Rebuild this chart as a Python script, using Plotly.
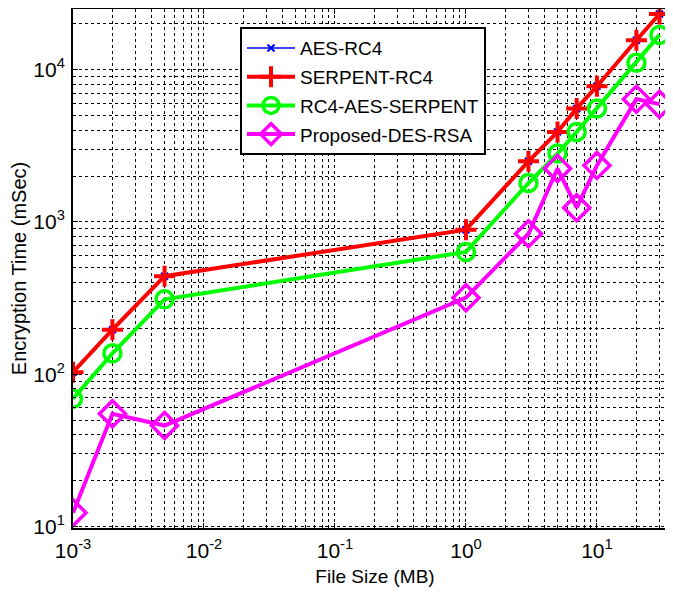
import plotly.graph_objects as go

file_size = [0.001, 0.002, 0.005, 1, 3, 5, 7, 10, 20, 30]
aes_rc4 = [103, 196, 440, 889, 2500, 3900, 5560, 7780, 15600, 23200]
serpent_rc4 = [103, 196, 440, 889, 2500, 3900, 5560, 7780, 15600, 23200]
rc4_aes_serpent = [69, 137, 310, 635, 1800, 2810, 3900, 5560, 11100, 16900]
proposed_des_rsa = [12.3, 55, 46, 318, 836, 2240, 1240, 2350, 6400, 5930]

x_tick_vals = [0.001, 0.01, 0.1, 1, 10]
x_tick_text = ["10<sup>-3</sup>", "10<sup>-2</sup>", "10<sup>-1</sup>", "10<sup>0</sup>", "10<sup>1</sup>"]
y_tick_vals = [10, 100, 1000, 10000]
y_tick_text = ["10<sup>1</sup>", "10<sup>2</sup>", "10<sup>3</sup>", "10<sup>4</sup>"]

FONT = "Liberation Sans, Arial, Helvetica"

fig = go.Figure()
fig.add_trace(go.Scatter(x=file_size, y=aes_rc4, name="AES-RC4", mode="lines+markers",
                         line=dict(color="#0000ff", width=1.5), legendgroup="a",
                         marker=dict(symbol="x-thin", size=7, line=dict(color="#0000ff", width=2))))
fig.add_trace(go.Scatter(x=file_size, y=serpent_rc4, name="SERPENT-RC4", mode="lines+markers",
                         line=dict(color="#ff0000", width=4), legendgroup="b",
                         marker=dict(symbol="cross-thin", size=15, line=dict(color="#ff0000", width=4))))
fig.add_trace(go.Scatter(x=file_size, y=rc4_aes_serpent, name="RC4-AES-SERPENT", mode="lines+markers",
                         line=dict(color="#00ff00", width=4), legendgroup="c",
                         marker=dict(symbol="circle-open", size=17, line=dict(color="#00ff00", width=3.5))))
fig.add_trace(go.Scatter(x=file_size, y=proposed_des_rsa, name="Proposed-DES-RSA", mode="lines+markers",
                         line=dict(color="#ff00ff", width=4), legendgroup="d",
                         marker=dict(symbol="diamond-open", size=20, line=dict(color="#ff00ff", width=3.5))))

axis_common = dict(
    type="log", showline=True, linecolor="black", linewidth=2, mirror="ticks",
    ticks="inside", ticklen=5, tickcolor="black", tickwidth=1,
    showgrid=True, gridcolor="black", griddash="dot", gridwidth=1,
    zeroline=False, automargin=False, tickmode="array",
    tickfont=dict(family=FONT, size=21, color="black"),
    minor=dict(dtick="D1", showgrid=True, gridcolor="black", griddash="dot", gridwidth=1,
               ticks="inside", ticklen=3, tickcolor="black"),
)

fig.update_xaxes(**axis_common, range=[-3, 1.611], tickvals=x_tick_vals, ticktext=x_tick_text,
                 ticklabelstandoff=3,
                 title=dict(text="File Size (MB)", font=dict(family=FONT, size=19, color="black"),
                            standoff=8))
fig.update_yaxes(**axis_common, range=[0.99, 4.398], tickvals=y_tick_vals, ticktext=y_tick_text,
                 ticklabelstandoff=2,
                 title=dict(text="Encryption Time (mSec)", font=dict(family=FONT, size=20, color="black"),
                            standoff=6))

# page body has an 8px default margin; margins compensate so the plot lands where the reference has it
fig.update_layout(
    width=673, height=593,
    margin=dict(l=65, r=4, t=1, b=73),
    plot_bgcolor="white", paper_bgcolor="white",
    font=dict(family=FONT, color="black"),
    legend=dict(x=0.2765, y=0.965, xanchor="left", yanchor="top",
                bgcolor="white", bordercolor="black", borderwidth=2,
                font=dict(family=FONT, size=19, color="black"),
                itemwidth=48, tracegroupgap=1, traceorder="grouped"),
    showlegend=True,
)

fig.write_html("out.html")
